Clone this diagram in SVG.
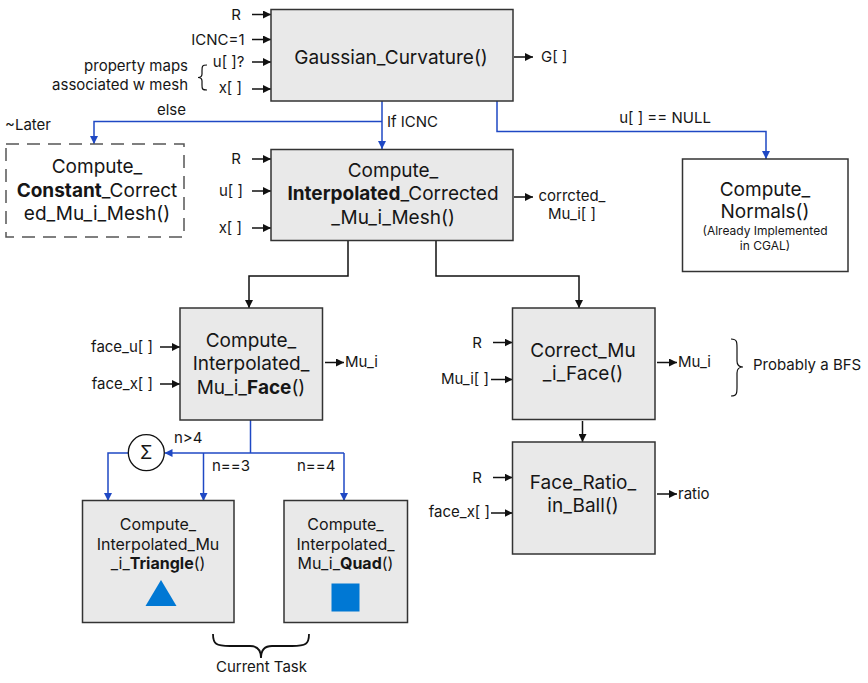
<svg xmlns="http://www.w3.org/2000/svg" width="868" height="683" viewBox="0 0 868 683">
<style>
  text { font-family: Inter, "Noto Sans", "Liberation Sans", sans-serif; fill: #161616; }
  .box { fill: #e9e9e9; stroke: #333333; stroke-width: 1.5; }
  .wbox { fill: #ffffff; stroke: #333333; stroke-width: 1.5; }
  .dbox { fill: #ffffff; stroke: #555555; stroke-width: 1.5; stroke-dasharray: 13 8; }
  .big { font-size: 19px; text-anchor: middle; }
  .mid { font-size: 16px; text-anchor: middle; }
  .lbl { font-size: 15px; }
  .sm { font-size: 12px; text-anchor: middle; }
  .b { font-weight: bold; }
  .k { fill: none; stroke: #111111; stroke-width: 1.5; }
  .bl { fill: none; stroke: #1f48c4; stroke-width: 1.5; }
  .shape { fill: #0078d4; }
</style>
<defs>
  <marker id="ak" markerUnits="userSpaceOnUse" markerWidth="8" markerHeight="8" refX="8" refY="4" orient="auto">
    <path d="M0,0 L8,4 L0,8 z" fill="#111111"/>
  </marker>
  <marker id="ab" markerUnits="userSpaceOnUse" markerWidth="8" markerHeight="8" refX="8" refY="4" orient="auto">
    <path d="M0,0 L8,4 L0,8 z" fill="#1f48c4"/>
  </marker>
</defs>

<g id="connectors">
  <!-- Gaussian inputs -->
  <line class="k" x1="252" y1="14.5" x2="271" y2="14.5" marker-end="url(#ak)"/>
  <line class="k" x1="252" y1="39.5" x2="271" y2="39.5" marker-end="url(#ak)"/>
  <line class="k" x1="252" y1="62" x2="271" y2="62" marker-end="url(#ak)"/>
  <line class="k" x1="252" y1="89" x2="271" y2="89" marker-end="url(#ak)"/>
  <line class="k" x1="514" y1="57" x2="533" y2="57" marker-end="url(#ak)"/>
  <!-- blue branches from Gaussian -->
  <line class="bl" x1="382" y1="101" x2="382" y2="149" marker-end="url(#ab)"/>
  <polyline class="bl" points="382,121.5 94,121.5 94,144" marker-end="url(#ab)"/>
  <polyline class="bl" points="497,101 497,131.5 766,131.5 766,159" marker-end="url(#ab)"/>
  <!-- Interp inputs / output -->
  <line class="k" x1="252" y1="159" x2="271" y2="159" marker-end="url(#ak)"/>
  <line class="k" x1="252" y1="191" x2="271" y2="191" marker-end="url(#ak)"/>
  <line class="k" x1="252" y1="228" x2="271" y2="228" marker-end="url(#ak)"/>
  <line class="k" x1="514" y1="197" x2="533" y2="197" marker-end="url(#ak)"/>
  <!-- Interp to Face / Correct -->
  <polyline class="k" points="348,241 348,276 249,276 249,308" marker-end="url(#ak)"/>
  <polyline class="k" points="436,241 436,276 579,276 579,308" marker-end="url(#ak)"/>
  <!-- Face inputs / output -->
  <line class="k" x1="160" y1="347" x2="180" y2="347" marker-end="url(#ak)"/>
  <line class="k" x1="160" y1="384" x2="180" y2="384" marker-end="url(#ak)"/>
  <line class="k" x1="325" y1="362.5" x2="344" y2="362.5" marker-end="url(#ak)"/>
  <!-- Face blue branches -->
  <line class="bl" x1="250.5" y1="420" x2="250.5" y2="453"/>
  <line class="bl" x1="344" y1="453" x2="164.5" y2="453" marker-end="url(#ab)"/>
  <line class="bl" x1="203.5" y1="453" x2="203.5" y2="501" marker-end="url(#ab)"/>
  <line class="bl" x1="344" y1="453" x2="344" y2="501" marker-end="url(#ab)"/>
  <polyline class="bl" points="128,453 108,453 108,501" marker-end="url(#ab)"/>
  <!-- Correct inputs / output -->
  <line class="k" x1="493" y1="342.5" x2="512.5" y2="342.5" marker-end="url(#ak)"/>
  <line class="k" x1="491" y1="379.5" x2="512.5" y2="379.5" marker-end="url(#ak)"/>
  <line class="k" x1="657" y1="362.5" x2="677" y2="362.5" marker-end="url(#ak)"/>
  <line class="k" x1="582.5" y1="421" x2="582.5" y2="442" marker-end="url(#ak)"/>
  <!-- Face_Ratio inputs / output -->
  <line class="k" x1="493" y1="477.5" x2="512.5" y2="477.5" marker-end="url(#ak)"/>
  <line class="k" x1="491" y1="513" x2="512.5" y2="513" marker-end="url(#ak)"/>
  <line class="k" x1="657" y1="494" x2="677" y2="494" marker-end="url(#ak)"/>
</g>

<g id="labels">
  <text class="lbl" x="241" y="19.5" text-anchor="end">R</text>
  <text class="lbl" x="244.5" y="44.5" text-anchor="end">ICNC=1</text>
  <text class="lbl" x="244.5" y="67" text-anchor="end">u[ ]?</text>
  <text class="lbl" x="242" y="93" text-anchor="end">x[ ]</text>
  <text class="lbl" x="188" y="71" text-anchor="end">property maps</text>
  <text class="lbl" x="188" y="89.5" text-anchor="end">associated w mesh</text>
  <path class="k" d="M207,65 C202,65 202,66 202,71 L202,74 C202,76 201,77.5 198,77.5 C201,77.5 202,79 202,81 L202,85 C202,89 202,90 207,90" style="stroke-width:1.2"/>
  <text class="lbl" x="541" y="62">G[ ]</text>
  <text class="lbl" x="186" y="115" text-anchor="end">else</text>
  <text class="lbl" x="387" y="127">If ICNC</text>
  <text class="lbl" x="5" y="129.5">~Later</text>
  <text class="lbl" x="665" y="123" text-anchor="middle">u[ ] == NULL</text>
  <text class="lbl" x="241" y="164" text-anchor="end">R</text>
  <text class="lbl" x="243" y="196" text-anchor="end">u[ ]</text>
  <text class="lbl" x="242" y="233" text-anchor="end">x[ ]</text>
  <text class="lbl" x="572" y="201" text-anchor="middle">corrcted_</text>
  <text class="lbl" x="572" y="219" text-anchor="middle">Mu_i[ ]</text>
  <text class="lbl" x="153" y="352" text-anchor="end">face_u[ ]</text>
  <text class="lbl" x="153" y="389" text-anchor="end">face_x[ ]</text>
  <text class="lbl" x="345" y="367">Mu_i</text>
  <text class="lbl" x="174" y="443">n&gt;4</text>
  <text class="lbl" x="212" y="471">n==3</text>
  <text class="lbl" x="297" y="471">n==4</text>
  <text class="lbl" x="482" y="348" text-anchor="end">R</text>
  <text class="lbl" x="489" y="384" text-anchor="end">Mu_i[ ]</text>
  <text class="lbl" x="678" y="367">Mu_i</text>
  <path class="k" d="M731,339 C737,339 737,342 737,348 L737,361 C737,365 739,367 743,367 C739,367 737,369 737,373 L737,387 C737,393 737,396 731,396" style="stroke-width:1.2"/>
  <text class="lbl" x="753" y="370">Probably a BFS</text>
  <text class="lbl" x="482" y="483" text-anchor="end">R</text>
  <text class="lbl" x="490" y="517" text-anchor="end">face_x[ ]</text>
  <text class="lbl" x="678" y="499">ratio</text>
  <path class="k" d="M213,634 C213,644 216,646 230,646 L250,646 C257,646 261,650 261,658 C261,650 265,646 272,646 L292,646 C306,646 309,644 309,634" style="stroke-width:1.8"/>
  <text class="lbl" x="261.5" y="672" text-anchor="middle">Current Task</text>
</g>

<g id="gaussian">
  <rect class="box" x="271" y="9.5" width="242" height="91.5"/>
  <text class="big" x="391" y="64">Gaussian_Curvature()</text>
</g>

<g id="constant">
  <rect class="dbox" x="6" y="144" width="178" height="93"/>
  <text class="big" x="97" y="173">Compute_</text>
  <text class="big" x="97" y="197"><tspan class="b">Constant</tspan>_Correct</text>
  <text class="big" x="97" y="220">ed_Mu_i_Mesh()</text>
</g>

<g id="interpolated">
  <rect class="box" x="271" y="149.5" width="242" height="91"/>
  <text class="big" x="393" y="177">Compute_</text>
  <text class="big" x="393" y="200"><tspan class="b">Interpolated</tspan>_Corrected</text>
  <text class="big" x="393" y="223.5">_Mu_i_Mesh()</text>
</g>

<g id="normals">
  <rect class="wbox" x="682.5" y="159" width="165.5" height="112.5"/>
  <text class="big" x="765" y="196">Compute_</text>
  <text class="big" x="765" y="217.5">Normals()</text>
  <text class="sm" x="765" y="235">(Already Implemented</text>
  <text class="sm" x="765" y="250">in CGAL)</text>
</g>

<g id="face">
  <rect class="box" x="180" y="308" width="142.5" height="112"/>
  <text class="big" x="251" y="347">Compute_</text>
  <text class="big" x="251" y="370">Interpolated_</text>
  <text class="big" x="251" y="393.5">Mu_i_<tspan class="b">Face</tspan>()</text>
</g>

<g id="sigma">
  <circle cx="146.3" cy="452.7" r="18" fill="#ffffff" stroke="#111111" stroke-width="1.3"/>
  <text x="146.3" y="459" text-anchor="middle" style="font-size:18px">Σ</text>
</g>

<g id="triangle">
  <rect class="box" x="82.5" y="500.5" width="151.5" height="122"/>
  <text class="mid" x="158" y="530">Compute_</text>
  <text class="mid" x="158" y="549.5">Interpolated_Mu</text>
  <text class="mid" x="158" y="568.5">_i_<tspan class="b">Triangle</tspan>()</text>
  <polygon class="shape" points="161,580 176.5,606 145.5,606"/>
</g>

<g id="quad">
  <rect class="box" x="284" y="500.5" width="123.5" height="122"/>
  <text class="mid" x="345.5" y="530">Compute_</text>
  <text class="mid" x="345.5" y="549.5">Interpolated_</text>
  <text class="mid" x="345.5" y="568.5">Mu_i_<tspan class="b">Quad</tspan>()</text>
  <rect class="shape" x="331.5" y="583.5" width="28" height="28"/>
</g>

<g id="correct">
  <rect class="box" x="512.5" y="308" width="142.5" height="111.5"/>
  <text class="big" x="583" y="357">Correct_Mu</text>
  <text class="big" x="583" y="380">_i_Face()</text>
</g>

<g id="ratio">
  <rect class="box" x="512.5" y="442" width="142.5" height="112"/>
  <text class="big" x="583" y="488.5">Face_Ratio_</text>
  <text class="big" x="583" y="511.5">in_Ball()</text>
</g>
</svg>
